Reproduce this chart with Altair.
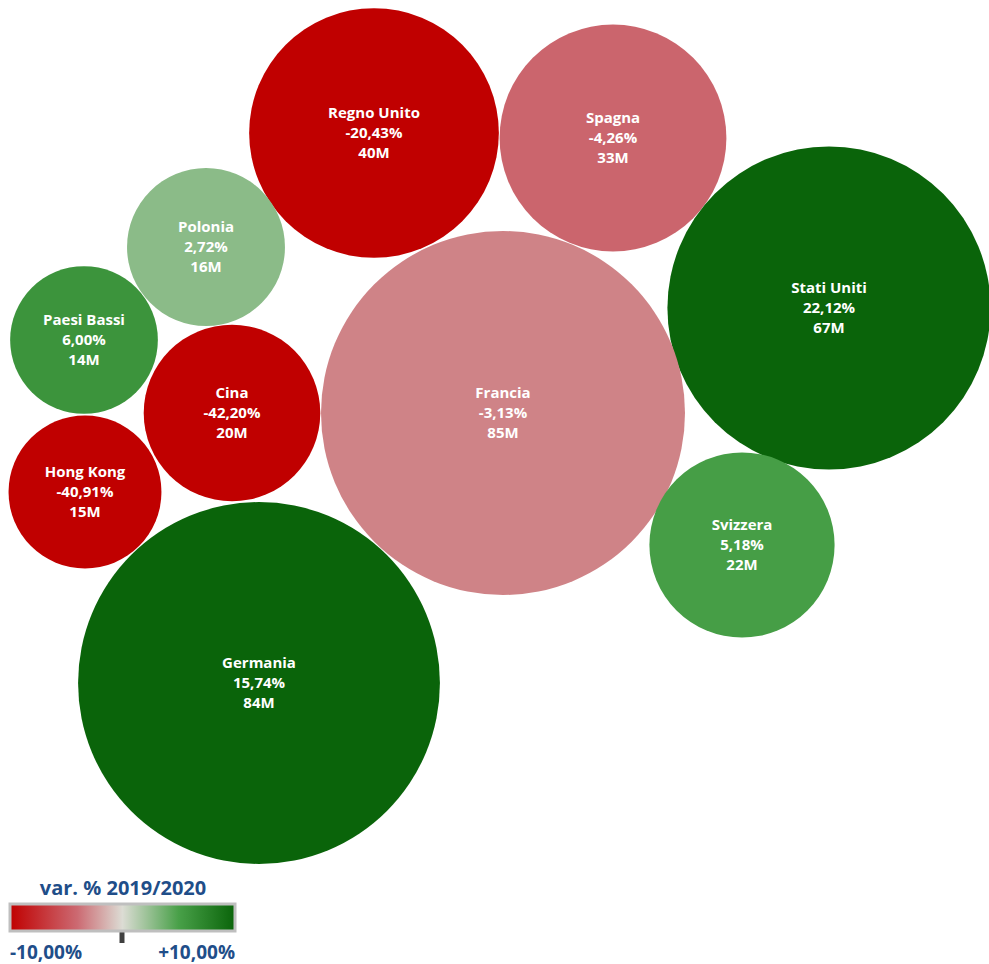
import altair as alt
import pandas as pd

countries = ["Regno Unito", "Spagna", "Polonia", "Stati Uniti", "Paesi Bassi",
             "Francia", "Cina", "Hong Kong", "Svizzera", "Germania"]
var_pct = [-20.43, -4.26, 2.72, 22.12, 6.00, -3.13, -42.20, -40.91, 5.18, 15.74]
value_m = [40, 33, 16, 67, 14, 85, 20, 15, 22, 84]
pos_x = [374, 613, 206, 829, 84, 503, 232, 85, 742, 259]
pos_y = [133, 138, 247, 308, 340, 413, 413, 492, 545, 683]

W, H = 989, 964

def fmt_pct(v):
    return f"{v:.2f}".replace(".", ",") + "%"

df = pd.DataFrame({
    "paese": countries,
    "var": var_pct,
    "valore": value_m,
    "px": pos_x,
    "py": pos_y,
})
df["label"] = [f"{c}\n{fmt_pct(v)}\n{m}M" for c, v, m in zip(countries, var_pct, value_m)]

xs = alt.Scale(domain=[0, W], nice=False, zero=False)
ys = alt.Scale(domain=[0, H], nice=False, zero=False, reverse=True)

color_scale = alt.Scale(
    domain=[-10, -4, 0, 5, 10],
    range=["#C00000", "#CC6A72", "#DCDCD4", "#48A048", "#0A640A"],
    interpolate="rgb",
    clamp=True,
)

base = alt.Chart(df)

circles = base.mark_circle(opacity=1, stroke=None).encode(
    x=alt.X("px:Q", scale=xs, axis=None),
    y=alt.Y("py:Q", scale=ys, axis=None),
    size=alt.Size("valore:Q", scale=alt.Scale(domain=[0, 85], range=[0, 364 * 364], zero=True), legend=None),
    color=alt.Color(
        "var:Q",
        scale=color_scale,
        legend=alt.Legend(
            title="var. % 2019/2020",
            orient="none",
            legendX=10,
            legendY=879,
            direction="horizontal",
            gradientLength=225,
            gradientThickness=27,
            gradientStrokeColor="#BFBFBF",
            gradientStrokeWidth=3,
            values=[-10, 10],
            labelExpr="(datum.value > 0 ? '+' : '-') + replace(format(abs(datum.value), '.2f'), '.', ',') + '%'",
            labelFont="Open Sans",
            labelFontSize=19,
            labelFontWeight="bold",
            labelColor="#1F4E89",
            labelOffset=13,
            titleFont="Open Sans",
            titleFontSize=20,
            titleFontWeight="bold",
            titleColor="#1F4E89",
            titleAnchor="middle",
            titlePadding=5,
            padding=0,
        ),
    ),
    tooltip=["paese:N", "var:Q", "valore:Q"],
)

texts = base.mark_text(
    color="white",
    font="Open Sans",
    fontSize=15,
    fontWeight="bold",
    lineBreak="\n",
    lineHeight=20,
    align="center",
    baseline="middle",
    dy=-20,
).encode(
    x=alt.X("px:Q", scale=xs),
    y=alt.Y("py:Q", scale=ys),
    text="label:N",
)

tick = alt.Chart(alt.Data(values=[{"k": 1}])).mark_rule(color="#404040", strokeWidth=5).encode(
    x=alt.value(122), y=alt.value(930), y2=alt.value(943)
)

chart = alt.layer(circles, texts, tick).properties(
    width=W, height=H, padding=0, autosize="none"
).configure_view(stroke=None)

chart.save("out.html", embed_options={"renderer": "svg", "actions": False})
